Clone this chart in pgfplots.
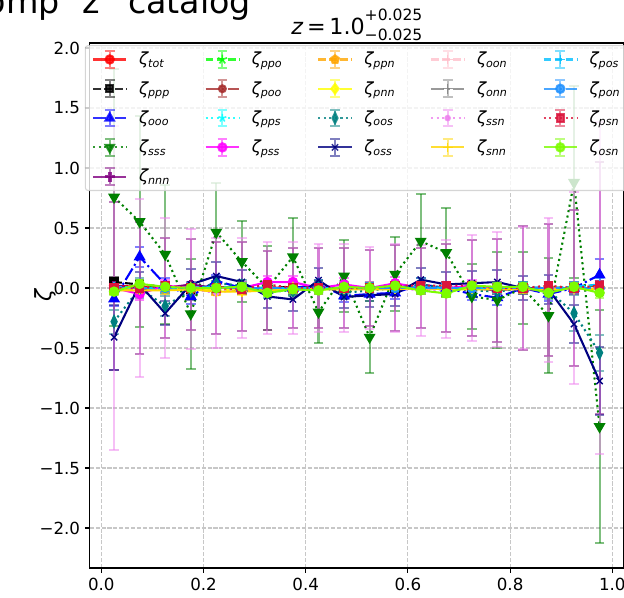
\documentclass[border=0pt]{standalone}
\usepackage{pgfplots}
\pgfplotsset{compat=1.18}
\usepackage{pgfplotstable}
\usepackage{fontspec}
\setmainfont{DejaVu Sans}
\usetikzlibrary{plotmarks}

\definecolor{cpurple}{HTML}{800080}
\definecolor{cgreen}{HTML}{008000}
\definecolor{clime}{HTML}{00FF00}
\definecolor{cbrown}{HTML}{A52A2A}
\definecolor{ccyan}{HTML}{00FFFF}
\definecolor{cmagenta}{HTML}{FF00FF}
\definecolor{corange}{HTML}{FFA500}
\definecolor{cyellow}{HTML}{FFFF00}
\definecolor{cteal}{HTML}{008080}
\definecolor{cnavy}{HTML}{000080}
\definecolor{cpink}{HTML}{FFC0CB}
\definecolor{cgray}{HTML}{808080}
\definecolor{cviolet}{HTML}{EE82EE}
\definecolor{cgold}{HTML}{FFD700}
\definecolor{cdeepsky}{HTML}{00BFFF}
\definecolor{cdodger}{HTML}{1E90FF}
\definecolor{ccrimson}{HTML}{DC143C}
\definecolor{clawn}{HTML}{7CFC00}

\pgfplotstableread{
x tot etot ppp eppp ooo eooo sss esss nnn ennn
0.025 0.02 0.03 0.05 0.04 -0.09 0.06 0.757 1.07 0.02 0.70
0.075 0.01 0.03 0.03 0.04 0.26 0.085 0.553 0.88 0.00 0.55
0.125 0.01 0.02 0.01 0.03 0.03 0.05 0.28 0.58 0.00 0.42
0.175 0.00 0.02 -0.01 0.03 -0.07 0.06 -0.215 0.46 0.03 0.38
0.225 0.01 0.02 0.01 0.03 0.06 0.05 0.465 0.41 0.00 0.38
0.275 0.00 0.02 0.00 0.03 0.00 0.04 0.22 0.34 0.01 0.37
0.325 0.00 0.02 0.00 0.03 -0.02 0.04 0.00 0.35 -0.02 0.33
0.375 0.01 0.02 0.01 0.03 0.00 0.05 0.26 0.32 0.00 0.33
0.425 0.00 0.02 0.00 0.03 0.03 0.04 -0.20 0.26 0.00 0.33
0.475 0.00 0.02 0.00 0.03 -0.065 0.05 0.10 0.30 0.00 0.33
0.525 0.00 0.02 0.00 0.03 -0.05 0.06 -0.41 0.30 0.00 0.32
0.575 0.00 0.02 0.00 0.03 -0.04 0.05 0.115 0.31 0.00 0.36
0.625 0.00 0.02 0.01 0.03 0.03 0.05 0.39 0.39 0.00 0.33
0.675 0.00 0.02 0.00 0.03 0.00 0.04 0.296 0.37 0.00 0.37
0.725 0.00 0.02 0.00 0.03 -0.05 0.05 -0.07 0.27 0.00 0.40
0.775 0.00 0.02 0.00 0.03 -0.08 0.06 -0.10 0.40 -0.02 0.43
0.825 0.00 0.02 0.00 0.03 0.00 0.05 0.00 0.30 0.00 0.52
0.875 0.00 0.02 0.00 0.03 -0.05 0.06 -0.23 0.48 -0.02 0.55
0.925 0.00 0.03 0.00 0.04 0.00 0.05 0.88 0.80 0.00 0.65
0.975 0.00 0.04 0.01 0.05 0.11 0.13 -1.155 0.97 0.00 1.05
}\tabA

\pgfplotstableread{
x ppo eppo poo epoo pps epps pss epss ppn eppn
0.025 0.01 0.03 0.01 0.03 0.00 0.04 0.00 0.05 -0.02 0.03
0.075 0.00 0.03 -0.01 0.03 0.01 0.04 -0.05 0.05 -0.01 0.03
0.125 0.01 0.03 0.00 0.03 0.00 0.04 0.02 0.05 -0.01 0.03
0.175 0.00 0.03 0.00 0.03 0.00 0.04 0.00 0.05 -0.01 0.03
0.225 0.00 0.03 0.00 0.03 0.01 0.04 0.00 0.05 -0.03 0.03
0.275 0.01 0.03 -0.02 0.03 0.00 0.04 0.00 0.05 -0.02 0.03
0.325 0.00 0.03 0.00 0.03 -0.01 0.04 0.05 0.05 -0.01 0.03
0.375 0.00 0.03 0.00 0.03 0.00 0.04 0.05 0.05 -0.01 0.03
0.425 0.00 0.03 0.00 0.03 0.00 0.04 0.00 0.05 -0.01 0.03
0.475 0.00 0.03 0.00 0.03 0.00 0.04 0.03 0.05 0.00 0.03
0.525 0.01 0.03 0.00 0.03 0.00 0.04 0.00 0.05 -0.01 0.03
0.575 0.00 0.03 0.00 0.03 0.00 0.04 0.04 0.05 0.00 0.03
0.625 0.00 0.03 0.00 0.03 0.01 0.04 0.00 0.05 0.00 0.03
0.675 0.00 0.03 0.00 0.03 0.00 0.04 0.00 0.05 -0.01 0.03
0.725 0.01 0.03 0.00 0.03 0.00 0.04 0.02 0.05 0.00 0.03
0.775 0.00 0.03 0.00 0.03 0.00 0.04 0.00 0.05 0.00 0.03
0.825 0.00 0.03 0.00 0.03 0.00 0.04 0.00 0.05 -0.01 0.03
0.875 0.00 0.03 0.00 0.03 0.00 0.04 0.00 0.05 0.00 0.03
0.925 0.01 0.03 0.00 0.03 0.00 0.04 0.00 0.05 0.01 0.03
0.975 0.00 0.04 0.00 0.04 0.00 0.05 0.00 0.06 0.00 0.04
}\tabB

\pgfplotstableread{
x pnn epnn oos eoos oss eoss oon eoon onn eonn
0.025 -0.01 0.02 -0.28 0.10 -0.41 0.27 0.00 0.03 0.00 0.05
0.075 0.00 0.02 0.00 0.08 0.03 0.10 0.00 0.03 0.00 0.05
0.125 0.00 0.02 -0.15 0.08 -0.21 0.10 0.00 0.03 0.00 0.05
0.175 0.00 0.02 -0.02 0.06 0.03 0.13 0.00 0.03 0.00 0.05
0.225 -0.02 0.02 0.04 0.05 0.10 0.12 0.00 0.03 0.00 0.05
0.275 -0.01 0.02 0.02 0.05 0.05 0.10 0.00 0.03 0.00 0.05
0.325 0.00 0.02 -0.03 0.05 -0.07 0.10 0.00 0.03 0.00 0.05
0.375 0.00 0.02 -0.02 0.05 -0.095 0.10 0.00 0.03 0.00 0.05
0.425 0.00 0.02 0.02 0.05 0.065 0.10 0.00 0.03 0.00 0.05
0.475 0.00 0.02 -0.04 0.05 -0.075 0.09 0.00 0.03 0.00 0.05
0.525 0.00 0.02 -0.02 0.05 -0.06 0.10 0.00 0.03 0.00 0.05
0.575 0.00 0.02 0.00 0.05 -0.05 0.10 0.00 0.03 0.00 0.05
0.625 0.00 0.02 0.03 0.05 0.07 0.10 0.00 0.03 0.00 0.05
0.675 0.00 0.02 0.00 0.05 0.03 0.10 0.00 0.03 0.00 0.05
0.725 0.00 0.02 -0.02 0.05 0.04 0.10 0.00 0.03 0.00 0.05
0.775 0.00 0.02 -0.03 0.05 0.05 0.10 0.00 0.03 0.00 0.05
0.825 0.00 0.02 0.00 0.05 0.00 0.10 0.00 0.03 0.00 0.05
0.875 0.00 0.02 -0.02 0.07 -0.01 0.12 0.00 0.03 0.00 0.05
0.925 0.00 0.02 -0.21 0.15 -0.30 0.16 0.00 0.03 0.00 0.05
0.975 0.00 0.03 -0.54 0.15 -0.775 0.28 0.00 0.04 0.00 0.06
}\tabC

\pgfplotstableread{
x ssn essn snn esnn pos epos pon epon psn epsn osn eosn
0.025 0.00 1.35 -0.02 0.03 0.01 0.04 0.00 0.03 0.00 0.03 -0.03 0.03
0.075 0.00 0.74 -0.02 0.03 0.00 0.04 0.00 0.03 0.00 0.03 0.035 0.03
0.125 0.00 0.58 -0.02 0.03 0.00 0.04 0.00 0.03 0.02 0.03 0.01 0.03
0.175 -0.01 0.50 -0.01 0.03 0.00 0.04 0.00 0.03 0.00 0.03 0.00 0.03
0.225 -0.04 0.46 -0.03 0.03 0.01 0.04 0.00 0.03 0.00 0.03 0.00 0.03
0.275 0.00 0.42 -0.03 0.03 0.00 0.04 0.00 0.03 -0.01 0.03 0.01 0.03
0.325 0.00 0.38 -0.02 0.03 0.00 0.04 0.00 0.03 0.03 0.03 -0.04 0.03
0.375 0.00 0.38 -0.01 0.03 0.00 0.04 0.00 0.03 0.00 0.03 -0.01 0.03
0.425 0.00 0.37 -0.01 0.03 0.00 0.04 0.00 0.03 0.00 0.03 -0.02 0.03
0.475 0.00 0.37 -0.01 0.03 0.00 0.04 0.00 0.03 0.00 0.03 0.01 0.03
0.525 0.00 0.34 -0.01 0.03 0.00 0.04 0.00 0.03 0.00 0.03 0.00 0.03
0.575 0.00 0.37 -0.01 0.03 0.00 0.04 0.00 0.03 0.02 0.03 0.02 0.03
0.625 -0.02 0.38 0.00 0.03 0.01 0.04 0.00 0.03 0.02 0.03 -0.02 0.03
0.675 -0.01 0.41 -0.01 0.03 0.00 0.04 0.00 0.03 0.02 0.03 -0.045 0.03
0.725 0.00 0.44 -0.01 0.03 0.00 0.04 0.00 0.03 0.02 0.03 0.02 0.03
0.775 -0.01 0.48 -0.01 0.03 0.00 0.04 0.00 0.03 0.00 0.03 0.01 0.03
0.825 0.00 0.51 -0.01 0.03 0.01 0.04 0.00 0.03 0.00 0.03 0.01 0.03
0.875 -0.02 0.60 -0.01 0.03 0.00 0.04 0.00 0.03 0.02 0.03 -0.04 0.03
0.925 0.00 0.80 0.00 0.03 0.01 0.04 0.00 0.03 0.00 0.03 0.01 0.03
0.975 0.00 1.38 -0.01 0.03 0.03 0.05 0.00 0.04 0.02 0.04 -0.04 0.04
}\tabD

\pgfplotsset{
  mpldashed/.style={dash pattern=on 5.55pt off 2.4pt},
  mpldotted/.style={dash pattern=on 1.5pt off 2.475pt},
  mpldashdot/.style={dash pattern=on 9.6pt off 2.4pt on 1.5pt off 2.4pt},
  errleg/.style={legend image code/.code={
    \draw[##1,solid,line width=1.5pt,draw opacity=0.5] (12pt,-6pt) -- (12pt,6pt) (8.5pt,-6pt) -- (15.5pt,-6pt) (8.5pt,6pt) -- (15.5pt,6pt);
    \draw[mark repeat=2,mark phase=2,##1] plot coordinates {(0pt,0pt) (12pt,0pt) (24pt,0pt)};
  }},
  base/.style={line width=1.5pt, errleg},
  stot/.style={base, color=red, solid, mark=*, mark size=3pt, mark options={solid}},
  sppp/.style={base, color=black, mpldashed, mark=square*, mark size=2.6pt, mark options={solid}},
  sooo/.style={base, color=blue, mpldashdot, mark=triangle*, mark size=3.5pt, mark options={solid}},
  ssss/.style={base, color=cgreen, mpldotted, mark=triangle*, mark size=3.5pt, mark options={solid, rotate=180}},
  snnn/.style={base, color=cpurple, solid, mark=+, mark size=3.5pt, mark options={solid, line width=2.6pt}},
  sppo/.style={base, color=clime, mpldashed, mark=star, mark size=3.5pt, mark options={solid, line width=1.2pt}},
  spoo/.style={base, color=cbrown, mpldashdot, mark=*, mark size=2.5pt, mark options={solid}},
  spps/.style={base, color=ccyan, mpldotted, mark=star, mark size=3pt, mark options={solid, line width=1.2pt}},
  spss/.style={base, color=cmagenta, solid, mark=*, mark size=3pt, mark options={solid}},
  sppn/.style={base, color=corange, mpldashed, mark=pentagon*, mark size=3pt, mark options={solid}},
  spnn/.style={base, color=cyellow, mpldashdot, mark=diamond*, mark size=3.5pt, mark options={solid}},
  soos/.style={base, color=cteal, mpldotted, mark=diamond*, mark size=3.8pt, mark options={solid, xscale=0.65}},
  soss/.style={base, color=cnavy, solid, mark=x, mark size=3.2pt, mark options={solid, line width=1pt}},
  soon/.style={base, color=cpink, mpldashed, mark=+, mark size=3.5pt, mark options={solid, line width=1pt}},
  sonn/.style={base, color=cgray, mpldashdot, mark=+, mark size=3.5pt, mark options={solid, line width=1pt}},
  sssn/.style={base, color=cviolet, mpldotted, mark=*, mark size=1.6pt, mark options={solid}},
  ssnn/.style={base, color=cgold, solid, mark=+, mark size=3.5pt, mark options={solid, line width=1pt}},
  spos/.style={base, color=cdeepsky, mpldashed, mark=+, mark size=3.5pt, mark options={solid, line width=1pt}},
  spon/.style={base, color=cdodger, mpldashdot, mark=*, mark size=3pt, mark options={solid}},
  spsn/.style={base, color=ccrimson, mpldotted, mark=square*, mark size=2.6pt, mark options={solid}},
  sosn/.style={base, color=clawn, solid, mark=*, mark size=3pt, mark options={solid}},
  eb/.style={forget plot,
    error bars/y dir=both, error bars/y explicit,
    error bars/error bar style={solid, line width=1.5pt, draw opacity=0.5},
    error bars/error mark options={rotate=90, solid, line width=1.5pt, mark size=3.5pt, draw opacity=0.5}},
}
\newcommand{\lab}[1]{\makebox[23pt][l]{\itshape ζ\textsubscript{#1}}}

\begin{document}
\begin{tikzpicture}
\begin{axis}[
  at={(64.66pt,-408.96pt)}, anchor=south west,
  scale only axis, width=384.5pt, height=378pt,
  xmin=-0.0225, xmax=1.0225, ymin=-2.333, ymax=2.042,
  xtick={0,0.2,0.4,0.6,0.8,1},
  xticklabels={0.0,0.2,0.4,0.6,0.8,1.0},
  ytick={-2,-1.5,-1,-0.5,0,0.5,1,1.5,2},
  yticklabels={−2.0,−1.5,−1.0,−0.5,0.0,0.5,1.0,1.5,2.0},
  tick align=outside, tick pos=left, major tick length=3.5pt,
  every tick/.style={black, line width=0.8pt},
  axis line style={line width=0.8pt},
  grid=major,
  major grid style={black!22, line width=0.8pt, dash pattern=on 2.96pt off 1.28pt},
  ticklabel style={font=\fontsize{12}{14}\selectfont},
  legend columns=5,
  legend cell align=left,
  legend style={at={(0.5,1)}, anchor=north, yshift=-1.5pt,
    draw=black!20, line width=0.8pt, rounded corners=2pt,
    fill=white, fill opacity=0.8, draw opacity=0.8, text opacity=1,
    inner xsep=4.8pt, inner ysep=3.2pt,
    font=\fontsize{12}{14}\selectfont,
    nodes={inner sep=0pt, anchor=west},
    /tikz/every odd column/.style={column sep=8.4pt},
    /tikz/every even column/.style={column sep=24.2pt},
    row sep=7.6pt},
]
\addplot[stot, eb] table[x=x, y=tot, y error=etot]{\tabA};
\addplot[sppp, eb] table[x=x, y=ppp, y error=eppp]{\tabA};
\addplot[sooo, eb] table[x=x, y=ooo, y error=eooo]{\tabA};
\addplot[ssss, eb] table[x=x, y=sss, y error=esss]{\tabA};
\addplot[snnn, eb] table[x=x, y=nnn, y error=ennn]{\tabA};
\addplot[sppo, eb] table[x=x, y=ppo, y error=eppo]{\tabB};
\addplot[spoo, eb] table[x=x, y=poo, y error=epoo]{\tabB};
\addplot[spps, eb] table[x=x, y=pps, y error=epps]{\tabB};
\addplot[spss, eb] table[x=x, y=pss, y error=epss]{\tabB};
\addplot[sppn, eb] table[x=x, y=ppn, y error=eppn]{\tabB};
\addplot[spnn, eb] table[x=x, y=pnn, y error=epnn]{\tabC};
\addplot[soos, eb] table[x=x, y=oos, y error=eoos]{\tabC};
\addplot[soss, eb] table[x=x, y=oss, y error=eoss]{\tabC};
\addplot[soon, eb] table[x=x, y=oon, y error=eoon]{\tabC};
\addplot[sonn, eb] table[x=x, y=onn, y error=eonn]{\tabC};
\addplot[sssn, eb] table[x=x, y=ssn, y error=essn]{\tabD};
\addplot[ssnn, eb] table[x=x, y=snn, y error=esnn]{\tabD};
\addplot[spos, eb] table[x=x, y=pos, y error=epos]{\tabD};
\addplot[spon, eb] table[x=x, y=pon, y error=epon]{\tabD};
\addplot[spsn, eb] table[x=x, y=psn, y error=epsn]{\tabD};
\addplot[sosn, eb] table[x=x, y=osn, y error=eosn]{\tabD};
% legend, row by row (matplotlib fills columns first)
\addlegendimage{stot}\addlegendentry{\lab{tot}}
\addlegendimage{sppo}\addlegendentry{\lab{ppo}}
\addlegendimage{sppn}\addlegendentry{\lab{ppn}}
\addlegendimage{soon}\addlegendentry{\lab{oon}}
\addlegendimage{spos}\addlegendentry{\lab{pos}}
\addlegendimage{sppp}\addlegendentry{\lab{ppp}}
\addlegendimage{spoo}\addlegendentry{\lab{poo}}
\addlegendimage{spnn}\addlegendentry{\lab{pnn}}
\addlegendimage{sonn}\addlegendentry{\lab{onn}}
\addlegendimage{spon}\addlegendentry{\lab{pon}}
\addlegendimage{sooo}\addlegendentry{\lab{ooo}}
\addlegendimage{spps}\addlegendentry{\lab{pps}}
\addlegendimage{soos}\addlegendentry{\lab{oos}}
\addlegendimage{sssn}\addlegendentry{\lab{ssn}}
\addlegendimage{spsn}\addlegendentry{\lab{psn}}
\addlegendimage{ssss}\addlegendentry{\lab{sss}}
\addlegendimage{spss}\addlegendentry{\lab{pss}}
\addlegendimage{soss}\addlegendentry{\lab{oss}}
\addlegendimage{ssnn}\addlegendentry{\lab{snn}}
\addlegendimage{sosn}\addlegendentry{\lab{osn}}
\addlegendimage{snnn}\addlegendentry{\lab{nnn}}
\end{axis}
% figure title (cut off by the crop), axes title and y label
\node[anchor=base west, font=\fontsize{24}{28}\selectfont, inner sep=0pt] at (-23.5pt,-9.4pt) {comp};
\node[anchor=base west, font=\fontsize{24}{28}\selectfont, inner sep=0pt] at (59pt,-9.4pt) {z};
\node[anchor=base west, font=\fontsize{24}{28}\selectfont, inner sep=0pt] at (92pt,-9.4pt) {catalog};
\node[anchor=base, font=\fontsize{16}{19}\selectfont, inner sep=0pt] at (256.9pt,-24.5pt)
  {\textit{z}\,=\,1.0\makebox[0pt][l]{\raisebox{0.6em}{\fontsize{11.2}{12}\selectfont +0.025}}\raisebox{-0.28em}{\fontsize{11.2}{12}\selectfont −0.025}};
\node[rotate=90, font=\fontsize{16}{19}\selectfont\itshape, inner sep=0pt] at (33pt,-213pt) {ζ};
\pgfresetboundingbox
\path[use as bounding box] (0,0) rectangle (449.28pt,-430.56pt);
\end{tikzpicture}
\end{document}
